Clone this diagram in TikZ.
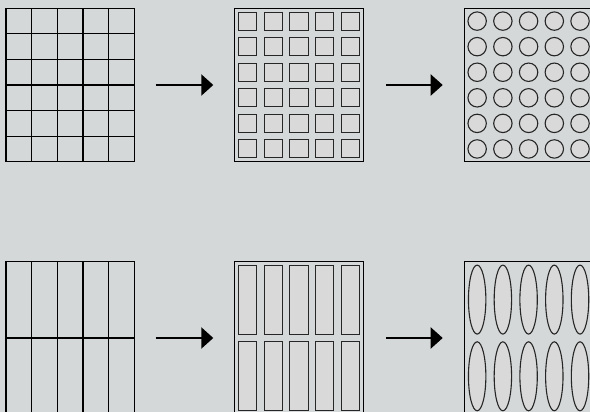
\documentclass[tikz,border=0pt]{standalone}
\usetikzlibrary{arrows.meta,calc}
\definecolor{bg}{HTML}{D4D8D8}
\definecolor{cellfill}{HTML}{D9D9D9}
\tikzset{
  panel/.style={draw=black, line width=1.2pt, minimum width=128.6pt, minimum height=153.4pt, inner sep=0pt, outer sep=0pt},
  gridline/.style={draw=black, line width=1.2pt},
  cellshape/.style={draw=black!85, line width=1.1pt, fill=cellfill},
  arr/.style={line width=2.2pt, -{Triangle[length=12pt,width=21pt]}}
}
\begin{document}
\begin{tikzpicture}[x=1pt,y=-1pt]
\useasboundingbox (0,0) rectangle (590,412);
\fill[bg] (0,0) rectangle (590,412);
\clip (0,0) rectangle (590,412);
% ---------- top row ----------
\node[panel] (g1) at (70.25,85) {};
\node[panel] (s1) at (299,85) {};
\node[panel] (c1) at (528.6,85) {};
\foreach \i in {1,...,4} {
  \draw[gridline] ($(g1.north west)+(\i*25.7,0)$) -- ($(g1.south west)+(\i*25.7,0)$);
}
\foreach \j in {1,...,5} {
  \draw[gridline] ($(g1.north west)+(0,\j*25.57)$) -- ($(g1.north east)+(0,\j*25.57)$);
}
\foreach \i in {0,...,4} {
  \foreach \j in {0,...,5} {
    \draw[cellshape] ($(s1.north west)+(\i*25.72+3.7,\j*25.57+3.8)$) rectangle ++(18.3,18);
    \draw[cellshape] ($(c1.north west)+(\i*25.72+12.86,\j*25.57+12.8)$) circle[radius=9.2];
  }
}
\draw[arr, shorten <=21pt, shorten >=21.4pt] (g1) -- (s1);
\draw[arr, shorten <=22.7pt, shorten >=21.6pt] (s1) -- (c1);
% ---------- bottom row ----------
\node[panel] (g2) at (70.25,338) {};
\node[panel] (s2) at (299,338) {};
\node[panel] (c2) at (528.6,338) {};
\foreach \i in {1,...,4} {
  \draw[gridline] ($(g2.north west)+(\i*25.7,0)$) -- ($(g2.south west)+(\i*25.7,0)$);
}
\draw[gridline] (g2.west) -- (g2.east);
\foreach \i in {0,...,4} {
  \foreach \j in {0,1} {
    \draw[cellshape] ($(s2.north west)+(\i*25.72+3.7,\j*76.7+3.8)$) rectangle ++(18.3,69);
    \draw[cellshape] ($(c2.north west)+(\i*25.72+12.86,\j*76.7+38.3)$) ellipse[x radius=8.7, y radius=34.5];
  }
}
\draw[arr, shorten <=21pt, shorten >=21.4pt] (g2) -- (s2);
\draw[arr, shorten <=22.7pt, shorten >=21.6pt] (s2) -- (c2);
\end{tikzpicture}
\end{document}
